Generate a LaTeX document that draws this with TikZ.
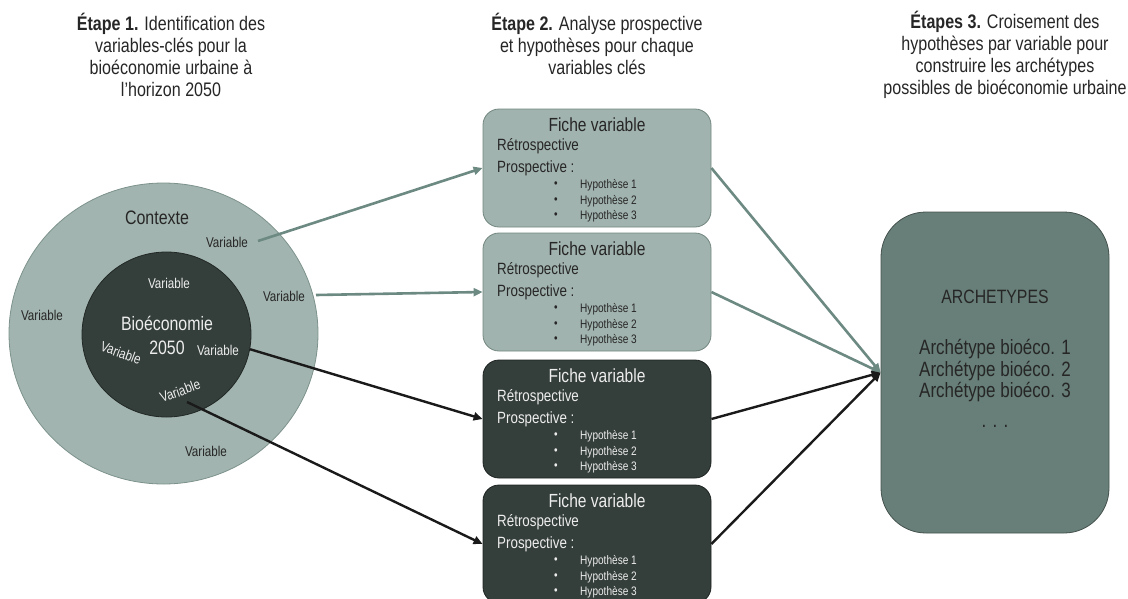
\documentclass[tikz,border=0pt]{standalone}
\usepackage{fontspec}
\setmainfont{Liberation Sans}[FakeStretch=0.82]
\usetikzlibrary{arrows.meta,shapes.geometric}
\definecolor{ringFill}{HTML}{A2B4AF}
\definecolor{ringLine}{HTML}{7D928C}
\definecolor{coreFill}{HTML}{343F3C}
\definecolor{coreLine}{HTML}{222826}
\definecolor{lightFill}{HTML}{A1B3AE}
\definecolor{lightLine}{HTML}{72877F}
\definecolor{darkFill}{HTML}{343E3B}
\definecolor{darkLine}{HTML}{1E2422}
\definecolor{archFill}{HTML}{677F78}
\definecolor{archLine}{HTML}{45524E}
\definecolor{greyArrow}{HTML}{6C8982}
\definecolor{blackArrow}{HTML}{1A1A1A}
\definecolor{txtDark}{HTML}{262626}
\definecolor{txtLight}{HTML}{EDEDED}
\tikzset{
  titletext/.style={align=center, text=txtDark, font=\fontsize{19.6}{22}\selectfont, inner sep=0pt},
  varlbl/.style={font=\fontsize{14.2}{16}\selectfont, inner sep=0pt},
  fichebox/.style={rectangle, rounded corners=16pt, minimum width=228pt, minimum height=118pt, line width=0.8pt, inner sep=0pt},
  lightbox/.style={fichebox, fill=lightFill, draw=lightLine},
  darkbox/.style={fichebox, fill=darkFill, draw=darkLine},
  ftitle/.style={font=\fontsize{19}{21}\selectfont, inner sep=0pt},
  fline/.style={font=\fontsize{16.3}{18}\selectfont, inner sep=0pt, anchor=west},
  fhyp/.style={font=\fontsize{12.3}{14}\selectfont, inner sep=0pt, anchor=west},
  garrow/.style={draw=greyArrow, line width=2.6pt, -{Triangle[length=9pt,width=8pt]}},
  karrow/.style={draw=blackArrow, line width=2.4pt, -{Triangle[length=9pt,width=8pt]}},
  archtext/.style={font=\fontsize{20.7}{23}\selectfont, text=txtDark, inner sep=0pt}
}
\newcommand{\ficheContent}[3]{% name, top y, text colour
  \node[ftitle, text=#3] (#1-t) at (597,#2+16) {Fiche variable};
  \node[fline, text=#3] (#1-r) at (497,#2+37) {Rétrospective};
  \node[fline, text=#3] (#1-p) at (497,#2+59) {Prospective :};
  \foreach \k/\dy in {1/76,2/92,3/107}{
    \node[fhyp, text=#3] (#1-b\k) at (554,#2+\dy) {•};
    \node[fhyp, text=#3] (#1-h\k) at (580,#2+\dy) {Hypothèse \k};
  }
}
\begin{document}
\begin{tikzpicture}[x=1pt,y=-1pt]
\useasboundingbox (0,0) rectangle (1128,598);
% titles
\node[titletext] (t1) at (171,55) {\textbf{Étape 1.} Identification des\\variables-clés pour la\\bioéconomie urbaine à\\l’horizon 2050};
\node[titletext] (t2) at (597,44) {\textbf{Étape 2.} Analyse prospective\\et hypothèses pour chaque\\variables clés};
\node[titletext] (t3) at (1005,55) {\textbf{Étapes 3.} Croisement des\\hypothèses par variable pour\\construire les archétypes\\possibles de bioéconomie urbaine};
% circles
\node[ellipse, fill=ringFill, draw=ringLine, line width=0.8pt, minimum width=309pt, minimum height=301pt, inner sep=0pt] (outer) at (163.5,333.5) {};
\node[ellipse, fill=coreFill, draw=coreLine, line width=0.8pt, minimum width=169pt, minimum height=165pt, inner sep=0pt] (inner) at (166.5,334.5) {};
\node[font=\fontsize{19.5}{21}\selectfont, text=txtDark, inner sep=0pt] (ctx) at (157,218) {Contexte};
\node[varlbl, text=txtDark] (v1) at (227,242) {Variable};
\node[varlbl, text=txtDark] (v2) at (284,296) {Variable};
\node[varlbl, text=txtDark] (v3) at (42,315) {Variable};
\node[varlbl, text=txtDark] (v4) at (206,451) {Variable};
\node[varlbl, text=txtLight] (v5) at (169,283) {Variable};
\node[varlbl, text=txtLight, rotate=-20] (v6) at (121,353) {Variable};
\node[varlbl, text=txtLight] (v7) at (218,350) {Variable};
\node[varlbl, text=txtLight, rotate=20] (v8) at (180,391) {Variable};
\node[align=center, font=\fontsize{19.4}{24}\selectfont, text=txtLight, inner sep=0pt] (bio) at (167,335) {Bioéconomie\\2050};
% boxes
\node[lightbox] (b1) at (597,168) {};
\node[lightbox] (b2) at (597,292) {};
\node[darkbox] (b3) at (597,419) {};
\node[darkbox] (b4) at (597,544) {};
\ficheContent{f1}{109}{txtDark}
\ficheContent{f2}{233}{txtDark}
\ficheContent{f3}{360}{txtLight}
\ficheContent{f4}{485}{txtLight}
% archetypes
\node[rectangle, rounded corners=45pt, minimum width=228pt, minimum height=321pt, fill=archFill, draw=archLine, line width=0.8pt, inner sep=0pt] (arch) at (995,372.5) {};
\node[archtext, font=\fontsize{19.3}{21}\selectfont] (archT) at (995,297) {ARCHETYPES};
\node[archtext] (a1) at (995,349) {Archétype bioéco. 1};
\node[archtext] (a2) at (995,371) {Archétype bioéco. 2};
\node[archtext] (a3) at (995,392) {Archétype bioéco. 3};
\node[archtext] (a4) at (995,426) {. . .};
% connectors
\coordinate (s1) at (258,241);
\coordinate (s2) at (316,295);
\coordinate (s4) at (187,402);
\draw[garrow] (s1) -- (b1.west);
\draw[garrow] (s2) -- (b2.west);
\draw[karrow] (inner.-10) -- (b3.west);
\draw[karrow] (s4) -- (b4.west);
\draw[garrow] (b1.east) -- (arch.west);
\draw[garrow] (b2.east) -- (arch.west);
\draw[karrow] (b3.east) -- (arch.west);
\draw[karrow] (b4.east) -- (arch.west);
\end{tikzpicture}
\end{document}
